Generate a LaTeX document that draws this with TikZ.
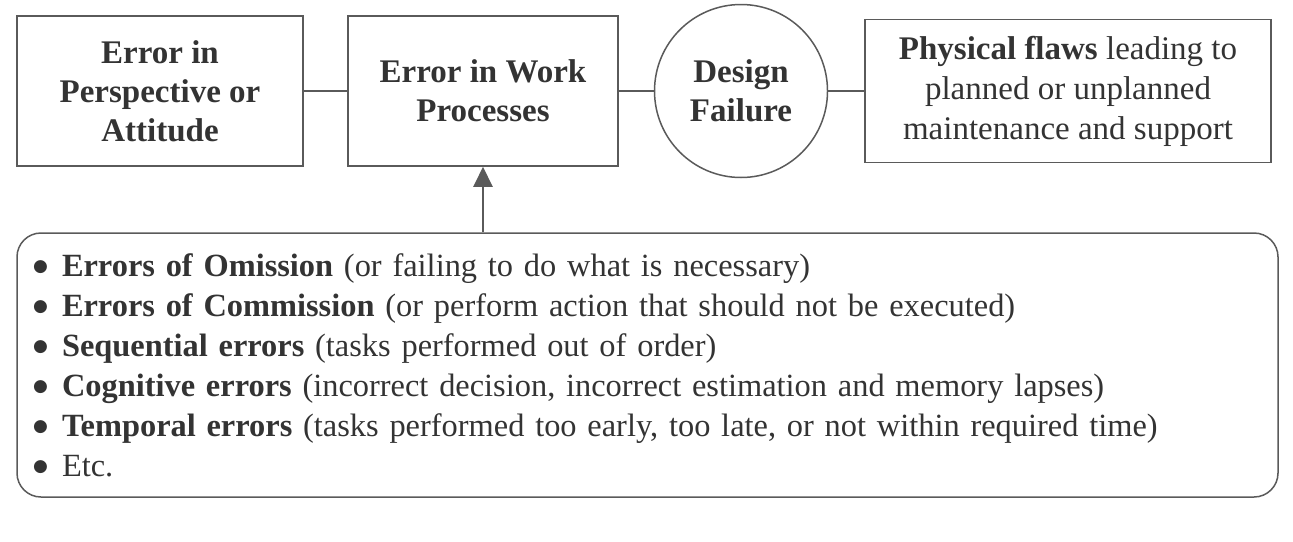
\documentclass[tikz,border=0pt]{standalone}
\usepackage{fontspec}
\setmainfont{Liberation Serif}
\newfontfamily\dejavu{DejaVu Sans}
\usetikzlibrary{shapes,arrows.meta,positioning,calc}
\usepackage{xcolor}
\definecolor{ink}{HTML}{333333}
\definecolor{edge}{HTML}{5A5A5A}
\newcommand{\blt}{\makebox[14.5pt][l]{\raisebox{2.4pt}{\dejavu\fontsize{8.5}{10}\selectfont ●}}}
\newcommand{\itm}[2]{\blt\textbf{#1}#2\\}

\begin{document}
\begin{tikzpicture}[x=0.5pt, y=-0.5pt,
  box/.style={rectangle, draw=edge, line width=0.75pt, text=ink, align=center, font=\fontsize{16.5}{19.5}\selectfont},
  disc/.style={circle, draw=edge, line width=0.75pt, text=ink, align=center, minimum size=86.5pt, inner sep=0pt, font=\fontsize{16.5}{19.5}\selectfont\bfseries},
  lst/.style={rectangle, rounded corners=12pt, draw=edge, line width=0.75pt, text=ink, align=left, inner xsep=8pt, text width=614.5pt, minimum height=132pt, font=\fontsize{16.2}{20}\selectfont},
  link/.style={draw=edge, line width=0.75pt},
  arr/.style={-{Triangle[length=10pt, width=9.5pt]}, draw=edge, fill=edge, line width=1pt}
]
  \useasboundingbox (0,0) rectangle (1293,541);
  \node[box, minimum width=143pt, minimum height=75pt, font=\fontsize{16.5}{19.5}\selectfont\bfseries] (pers) at (160,91) {Error in\\Perspective or\\Attitude};
  \node[box, minimum width=135pt, minimum height=75pt, font=\fontsize{16.5}{19.5}\selectfont\bfseries] (work) at (483,91) {Error in Work\\Processes};
  \node[disc] (design) at (741,91) {Design\\Failure};
  \node[box, minimum width=203pt, minimum height=71.5pt, font=\fontsize{16.5}{20}\selectfont] (flaws) at (1068,91) {\textbf{Physical flaws} leading to\\planned or unplanned\\maintenance and support};
  \node[lst] (errs) at (647.5,365) {%
    \itm{Errors of Omission}{ (or failing to do what is necessary)}
    \itm{Errors of Commission}{ (or perform action that should not be executed)}
    \itm{Sequential errors}{ (tasks performed out of order)}
    \itm{Cognitive errors}{ (incorrect decision, incorrect estimation and memory lapses)}
    \itm{Temporal errors}{ (tasks performed too early, too late, or not within required time)}
    \blt Etc.};
  \draw[link] (pers) -- (work);
  \draw[link] (work) -- (design);
  \draw[link] (design) -- (flaws);
  \draw[arr] (errs.north -| work.south) -- (work.south);
\end{tikzpicture}
\end{document}
